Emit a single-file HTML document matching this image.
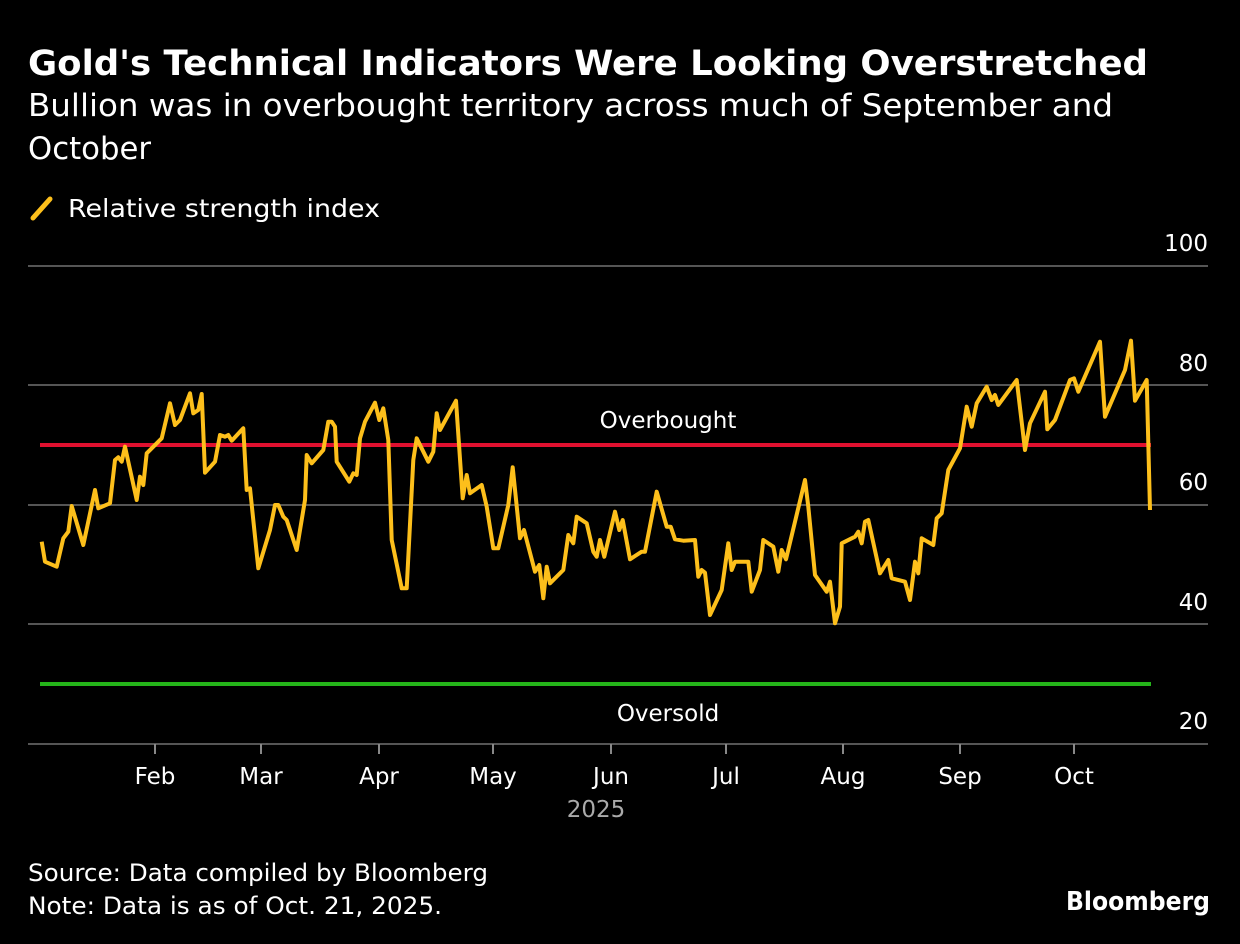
<!DOCTYPE html>
<html><head><meta charset="utf-8"><style>
body{margin:0;background:#000;width:1240px;height:944px;overflow:hidden;font-family:"Liberation Sans","DejaVu Sans",sans-serif;color:#fff}
</style></head><body>
<svg width="1240" height="944" xmlns="http://www.w3.org/2000/svg" style="position:absolute;left:0;top:0">
<text x="28" y="75" font-size="35" font-weight="bold" fill="#fff" font-family="DejaVu Sans, sans-serif" textLength="1120" lengthAdjust="spacingAndGlyphs">Gold's Technical Indicators Were Looking Overstretched</text>
<text x="28" y="116" font-size="31" fill="#fff" font-family="DejaVu Sans, sans-serif" textLength="1085" lengthAdjust="spacingAndGlyphs">Bullion was in overbought territory across much of September and</text>
<text x="28" y="159" font-size="31" fill="#fff" font-family="DejaVu Sans, sans-serif" textLength="123" lengthAdjust="spacingAndGlyphs">October</text>
<line x1="33" y1="218" x2="50" y2="199" stroke="#fdbf1b" stroke-width="5" stroke-linecap="round"/>
<text x="68" y="217" font-size="25" fill="#fff" font-family="DejaVu Sans, sans-serif" textLength="312" lengthAdjust="spacingAndGlyphs">Relative strength index</text>
<g stroke="#555" stroke-width="2">
<line x1="28" y1="266" x2="1208" y2="266"/><line x1="28" y1="385" x2="1208" y2="385"/>
<line x1="28" y1="505" x2="1208" y2="505"/><line x1="28" y1="624" x2="1208" y2="624"/>
<line x1="28" y1="744" x2="1208" y2="744"/></g>
<g font-size="23" fill="#fff" text-anchor="end" font-family="DejaVu Sans, sans-serif">
<text x="1208" y="251">100</text><text x="1208" y="371">80</text><text x="1208" y="490">60</text><text x="1208" y="610">40</text><text x="1208" y="729">20</text></g>
<g stroke="#888" stroke-width="2">
<line x1="155" y1="744" x2="155" y2="754"/><line x1="261" y1="744" x2="261" y2="754"/><line x1="379" y1="744" x2="379" y2="754"/><line x1="493" y1="744" x2="493" y2="754"/><line x1="611" y1="744" x2="611" y2="754"/><line x1="726" y1="744" x2="726" y2="754"/><line x1="843" y1="744" x2="843" y2="754"/><line x1="960" y1="744" x2="960" y2="754"/><line x1="1074" y1="744" x2="1074" y2="754"/></g>
<g font-size="23" fill="#fff" text-anchor="middle" font-family="DejaVu Sans, sans-serif">
<text x="155" y="784">Feb</text><text x="261" y="784">Mar</text><text x="379" y="784">Apr</text><text x="493" y="784">May</text><text x="611" y="784">Jun</text><text x="726" y="784">Jul</text><text x="843" y="784">Aug</text><text x="960" y="784">Sep</text><text x="1074" y="784">Oct</text>
<text x="596" y="817" fill="#aaa">2025</text>
<text x="668" y="428">Overbought</text><text x="668" y="721">Oversold</text></g>
<line x1="40" y1="445" x2="1151" y2="445" stroke="#e0102f" stroke-width="4"/>
<line x1="40" y1="684" x2="1151" y2="684" stroke="#25b51a" stroke-width="4"/>
<polyline fill="none" stroke="#fdbf1b" stroke-width="4" stroke-linejoin="round" points="41.7,541.7 45,561.7 56.7,566.7 63.3,538.3 68.3,531.7 71.7,506 83.3,545 95,490 98.3,508.3 110,503.3 115,460 118.3,457.3 121.7,461.7 125,446.7 136.7,500 140,476.7 143.3,485 146.7,453.3 161.7,438.3 170,403.3 175,425 180,420 190,393.3 193.3,413.3 198.3,410 201.7,394 205,472.7 215,461.7 220,435 225,436.7 228.3,435 231.7,440.7 243.3,428.3 246.7,490 250,488.3 258.3,568.3 270,530 275,505 278.3,505 283.3,516.7 286.7,520 296.7,550 305,500 306.7,455 311.7,463.3 323.3,450 328.3,421.7 331.7,421.7 335,426.7 336.7,461.7 349.3,481.7 353.3,473.3 356.7,475 360,438.3 365,421.7 375,402.7 379.3,420 383.3,408.3 388.3,440 391.7,540 401.7,588.3 406.7,588.3 413.3,460 416.7,438.3 428.3,461.7 433.3,451.7 436.7,413.3 440,430 456,400.7 462.7,498.3 466.7,475 470,493.3 481.7,485 486.7,506.7 493.3,548.3 498.3,548.3 508.3,505 512.7,467.3 520,538.3 524,530 535,571.7 539.3,565 543.3,598.3 546.7,566.7 550,583.3 563.3,570 568.3,535 573.3,543.3 576.7,516.7 586.7,523.3 593.3,551.7 596.7,556.7 600,540 604.3,556.7 615,511.7 619.3,530 622.7,520 630,559.3 641.7,551.7 645,551.7 656.7,491.7 666.7,526.7 670.7,526.7 675,539.3 683.3,540.7 695,540 698.3,576.7 701.7,570 705,572.7 710,615 721.7,590 728.3,543.3 731.7,570 735,561.7 748.3,561.7 751.7,591.7 760,570 763.3,540 773.3,546.7 778.3,571.7 781.7,550 786,559.3 805,480 808.3,506.7 815,575 826.7,591.7 830,581.7 835,623.3 840,606.7 841.7,543.3 855,536.7 858.3,531.7 861.7,543.3 865,521.7 868.3,520 880,573.3 888.3,560 891.7,578.3 905,581.7 910,600 915,561.7 918.3,573.3 921.7,538.3 933.3,545 936.7,518.3 941.7,513.3 948.3,470 960,448.3 966.7,406.7 971.7,426.7 976.7,403.3 986.7,386.7 991.7,400 995,395 998.3,405 1016.7,380 1025,450 1030,423.3 1045,391.7 1047.3,429.3 1055,420 1070,380 1074,378.3 1078.3,391.7 1100,341.7 1105,416.7 1125,370 1131,340.7 1135,400.7 1146.7,380 1150,510"/>
<g font-size="24" fill="#fff" font-family="DejaVu Sans, sans-serif">
<text x="28" y="881" textLength="460" lengthAdjust="spacingAndGlyphs">Source: Data compiled by Bloomberg</text>
<text x="28" y="914" textLength="414" lengthAdjust="spacingAndGlyphs">Note: Data is as of Oct. 21, 2025.</text></g>
<text x="1210" y="910" font-size="26" font-weight="bold" fill="#fff" text-anchor="end" font-family="DejaVu Sans, sans-serif" textLength="144" lengthAdjust="spacingAndGlyphs">Bloomberg</text>
</svg>
</body></html>
